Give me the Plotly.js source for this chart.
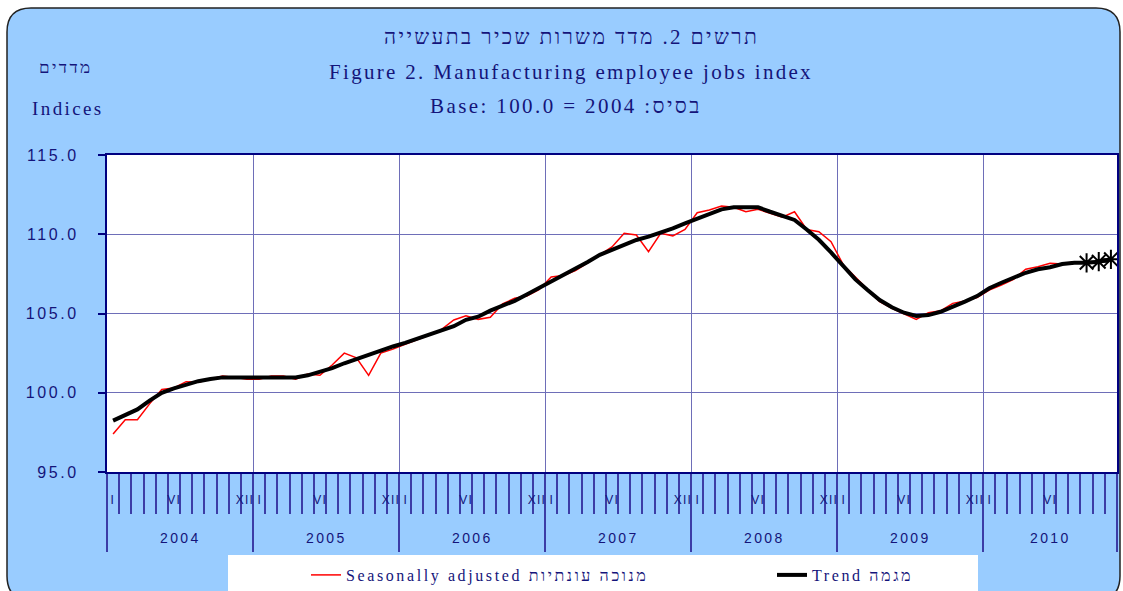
<!DOCTYPE html>
<html><head><meta charset="utf-8">
<script src="https://cdn.plot.ly/plotly-3.0.1.min.js"></script>
<style>
html,body{margin:0;padding:0;background:#fff;}
#chart{width:1123px;height:591px;}
.gtitle{letter-spacing:2.3px;}
.annotation-text{letter-spacing:2.4px;}
.legendtext, .infolayer g[class*="legend"] text{letter-spacing:2.6px;}
.ytick text{letter-spacing:2.6px;}
</style>
<style id="monthStyle"></style>
</head><body><div id="chart"></div>
<script>
// ---- data ----
const years = [2004, 2005, 2006, 2007, 2008, 2009, 2010];
const monthRoman = ['I', 'VI', 'XII'];
const monthRomanNumber = [1, 6, 12];
const yTicks = [95, 100, 105, 110, 115];

// Seasonally adjusted index, Jan 2004 - Nov 2010
const seasonallyAdjusted = [
  97.4, 98.3, 98.3, 99.3, 100.2, 100.3, 100.7, 100.66, 100.85, 101.05, 100.97, 100.85,
  100.85, 101.05, 101.05, 100.85, 101.18, 101.1, 101.75, 102.5, 102.2, 101.1, 102.5, 102.75,
  103.06, 103.33, 103.64, 104.0, 104.59, 104.86, 104.63, 104.76, 105.6, 105.96, 106.1, 106.5,
  107.3, 107.4, 107.7, 108.2, 108.7, 109.2, 110.06, 109.95, 108.9, 110.06, 109.9, 110.31,
  111.36, 111.53, 111.78, 111.7, 111.42, 111.57, 111.32, 111.07, 111.42, 110.3, 110.16, 109.53,
  108.08, 107.3, 106.55, 105.75, 105.33, 105.0, 104.63, 105.05, 105.17, 105.64, 105.79, 106.0,
  106.48, 106.8, 107.16, 107.79, 107.95, 108.17, 108.12, 108.27, 108.12, 108.27, 108.42
];
// Trend, Jan 2004 - Nov 2010 (last three provisional)
const trend = [
  98.24, 98.6, 98.95, 99.5, 100.0, 100.28, 100.5, 100.73, 100.87, 100.97, 100.97, 100.97,
  100.97, 100.97, 100.97, 100.97, 101.1, 101.3, 101.55, 101.86, 102.13, 102.4, 102.68, 102.92,
  103.15, 103.4, 103.7, 103.96, 104.2, 104.6, 104.8, 105.18, 105.5, 105.8, 106.2, 106.6,
  107.0, 107.4, 107.8, 108.25, 108.7, 109.0, 109.3, 109.64, 109.85, 110.1, 110.37, 110.69,
  111.0, 111.28, 111.57, 111.7, 111.7, 111.7, 111.42, 111.15, 110.9, 110.3, 109.65, 108.85,
  107.98, 107.15, 106.48, 105.85, 105.39, 105.05, 104.85, 104.9, 105.11, 105.4, 105.75, 106.1,
  106.59, 106.94, 107.28, 107.57, 107.79, 107.92, 108.12, 108.2, 108.2, 108.27, 108.42
];
const provisionalCount = 3;

const titleHe = 'תרשים 2. מדד משרות שכיר בתעשייה';
const titleEn = 'Figure 2. Manufacturing employee jobs index';
const baseText = 'Base: 100.0 = 2004 :בסיס';
const unitHe = 'מדדים';
const unitEn = 'Indices';
const nameSA = 'Seasonally adjusted מנוכה עונתיות';
const nameTrend = 'Trend מגמה';

// ---- geometry ----
const W = 1123, H = 591, L = 107, R = 1117, T = 155, B = 472;
const fx = p => (p - L) / (R - L);
const fy = p => (B - p) / (B - T);
const navy = '#14147a';
const gridCol = '#6e6eb8';
const tickCol = '#3c3ca6';

const n = seasonallyAdjusted.length;
const idx = seasonallyAdjusted.map((_, i) => i);
const periods = idx.map(i => years[Math.floor(i / 12)] + '-' + String(i % 12 + 1).padStart(2, '0'));
const yearBounds = years.map((_, k) => 12 * k - 0.5).concat([n - 0.5]);

function roundRect(x0, y0, x1, y1, r) {
  const X = fx, Y = fy;
  return `M${X(x0 + r)},${Y(y0)} L${X(x1 - r)},${Y(y0)} Q${X(x1)},${Y(y0)} ${X(x1)},${Y(y0 + r)} ` +
    `L${X(x1)},${Y(y1 - r)} Q${X(x1)},${Y(y1)} ${X(x1 - r)},${Y(y1)} L${X(x0 + r)},${Y(y1)} ` +
    `Q${X(x0)},${Y(y1)} ${X(x0)},${Y(y1 - r)} L${X(x0)},${Y(y0 + r)} Q${X(x0)},${Y(y0)} ${X(x0 + r)},${Y(y0)} Z`;
}

const annotations = [];
const serif = 'Liberation Serif, Times New Roman, serif';
const sans = 'Liberation Sans, Arial, sans-serif';
function addPaperText(text, x, y, size, family) {
  annotations.push({text, xref: 'paper', yref: 'paper', x: fx(x), y: fy(y), xanchor: 'center', yanchor: 'middle',
    showarrow: false, font: {family, size, color: navy}});
}
addPaperText(titleHe, 571, 37, 21, serif);
addPaperText(baseText, 566, 106, 21, serif);
addPaperText(unitHe, 66, 68, 17, serif);
addPaperText(unitEn, 68, 108, 19, serif);

const monthAnnIdx = [];
years.forEach((yr, k) => {
  monthRoman.forEach((txt, j) => {
    const i = 12 * k + monthRomanNumber[j] - 1;
    if (i < n) {
      monthAnnIdx.push(annotations.length);
      annotations.push({text: txt, xref: 'x', yref: 'paper', x: i, y: fy(500), xanchor: 'center', yanchor: 'middle',
        xshift: j === 2 ? -2 : (j === 0 && k > 0 ? 1 : 0),
        showarrow: false, font: {family: sans, size: 12, color: navy}});
    }
  });
  const s = 12 * k, e = Math.min(12 * k + 11, n - 1);
  annotations.push({text: String(yr), xref: 'x', yref: 'paper', x: (s + e) / 2, y: fy(538), xanchor: 'center', yanchor: 'middle',
    showarrow: false, font: {family: sans, size: 14, color: navy}});
});
document.getElementById('monthStyle').textContent =
  monthAnnIdx.map(i => `.annotation[data-index="${i}"] .annotation-text`).join(',') + '{letter-spacing:1.2px;}';

const shapes = [
  {type: 'path', xref: 'paper', yref: 'paper', path: roundRect(7, 8, 1120, 600, 24), fillcolor: '#99ccff',
    line: {color: '#222222', width: 1.5}, layer: 'below'},
  {type: 'rect', xref: 'paper', yref: 'paper', x0: 0, x1: 1, y0: 0, y1: 1, fillcolor: '#ffffff', line: {width: 0}, layer: 'below'},
  {type: 'rect', xref: 'paper', yref: 'paper', x0: fx(228), x1: fx(978), y0: fy(600), y1: fy(555), fillcolor: '#ffffff', line: {width: 0}, layer: 'below'}
];

const provIdx = idx.slice(n - provisionalCount);
const data = [
  {x: idx, y: seasonallyAdjusted, text: periods, type: 'scatter', mode: 'lines', name: nameSA, legend: 'legend',
    line: {color: '#ff0000', width: 1.5}, hovertemplate: '%{text}: %{y:.1f}<extra></extra>'},
  {x: idx, y: trend, text: periods, type: 'scatter', mode: 'lines', name: nameTrend, legend: 'legend2',
    line: {color: '#000000', width: 4}, hovertemplate: '%{text}: %{y:.1f}<extra></extra>'},
  {x: provIdx, y: trend.slice(n - provisionalCount), type: 'scatter', mode: 'markers', showlegend: false,
    marker: {symbol: 'asterisk-open', size: 16, color: '#000', line: {color: '#000', width: 2}}, hoverinfo: 'skip'}
];

function makeLegend(px, ew) {
  return {orientation: 'h', xref: 'container', yref: 'container', x: px / W, xanchor: 'left', y: 1 - 575 / H, yanchor: 'middle',
    bgcolor: 'rgba(0,0,0,0)', borderwidth: 0, entrywidth: ew, entrywidthmode: 'pixels',
    font: {family: serif, size: 16, color: navy}};
}

const layout = {
  width: W, height: H,
  margin: {l: L, r: W - R, t: T, b: H - B, autoexpand: false},
  paper_bgcolor: '#ffffff', plot_bgcolor: '#ffffff',
  font: {family: serif, size: 16, color: navy},
  title: {text: titleEn, x: 571 / W, xref: 'container', xanchor: 'center', y: 1 - 72 / H, yref: 'container', yanchor: 'middle',
    font: {family: serif, size: 21, color: navy}},
  showlegend: true,
  legend: makeLegend(306, 330),
  legend2: makeLegend(772, 160),
  xaxis: {range: [-0.5, n - 0.5], tickmode: 'array', tickvals: yearBounds, ticks: 'outside', ticklen: 78, tickwidth: 2,
    tickcolor: tickCol, showticklabels: false, showgrid: true, gridcolor: gridCol, gridwidth: 1,
    showline: true, linecolor: '#000080', linewidth: 2, mirror: true, zeroline: false, fixedrange: true,
    minor: {tickmode: 'linear', tick0: -0.5, dtick: 1, ticks: 'outside', ticklen: 40, tickwidth: 2, tickcolor: tickCol, showgrid: false}},
  yaxis: {range: [95, 115], tickmode: 'array', tickvals: yTicks, tickformat: '.1f', ticks: 'outside', ticklen: 7, tickwidth: 2,
    tickcolor: '#000080', showgrid: true, gridcolor: gridCol, gridwidth: 1, showline: true, linecolor: '#000080', linewidth: 2,
    mirror: true, zeroline: false, fixedrange: true, ticklabelstandoff: 16,
    tickfont: {family: sans, size: 16, color: navy}},
  shapes, annotations
};

Plotly.newPlot('chart', data, layout, {displayModeBar: false, responsive: false});
</script></body></html>
